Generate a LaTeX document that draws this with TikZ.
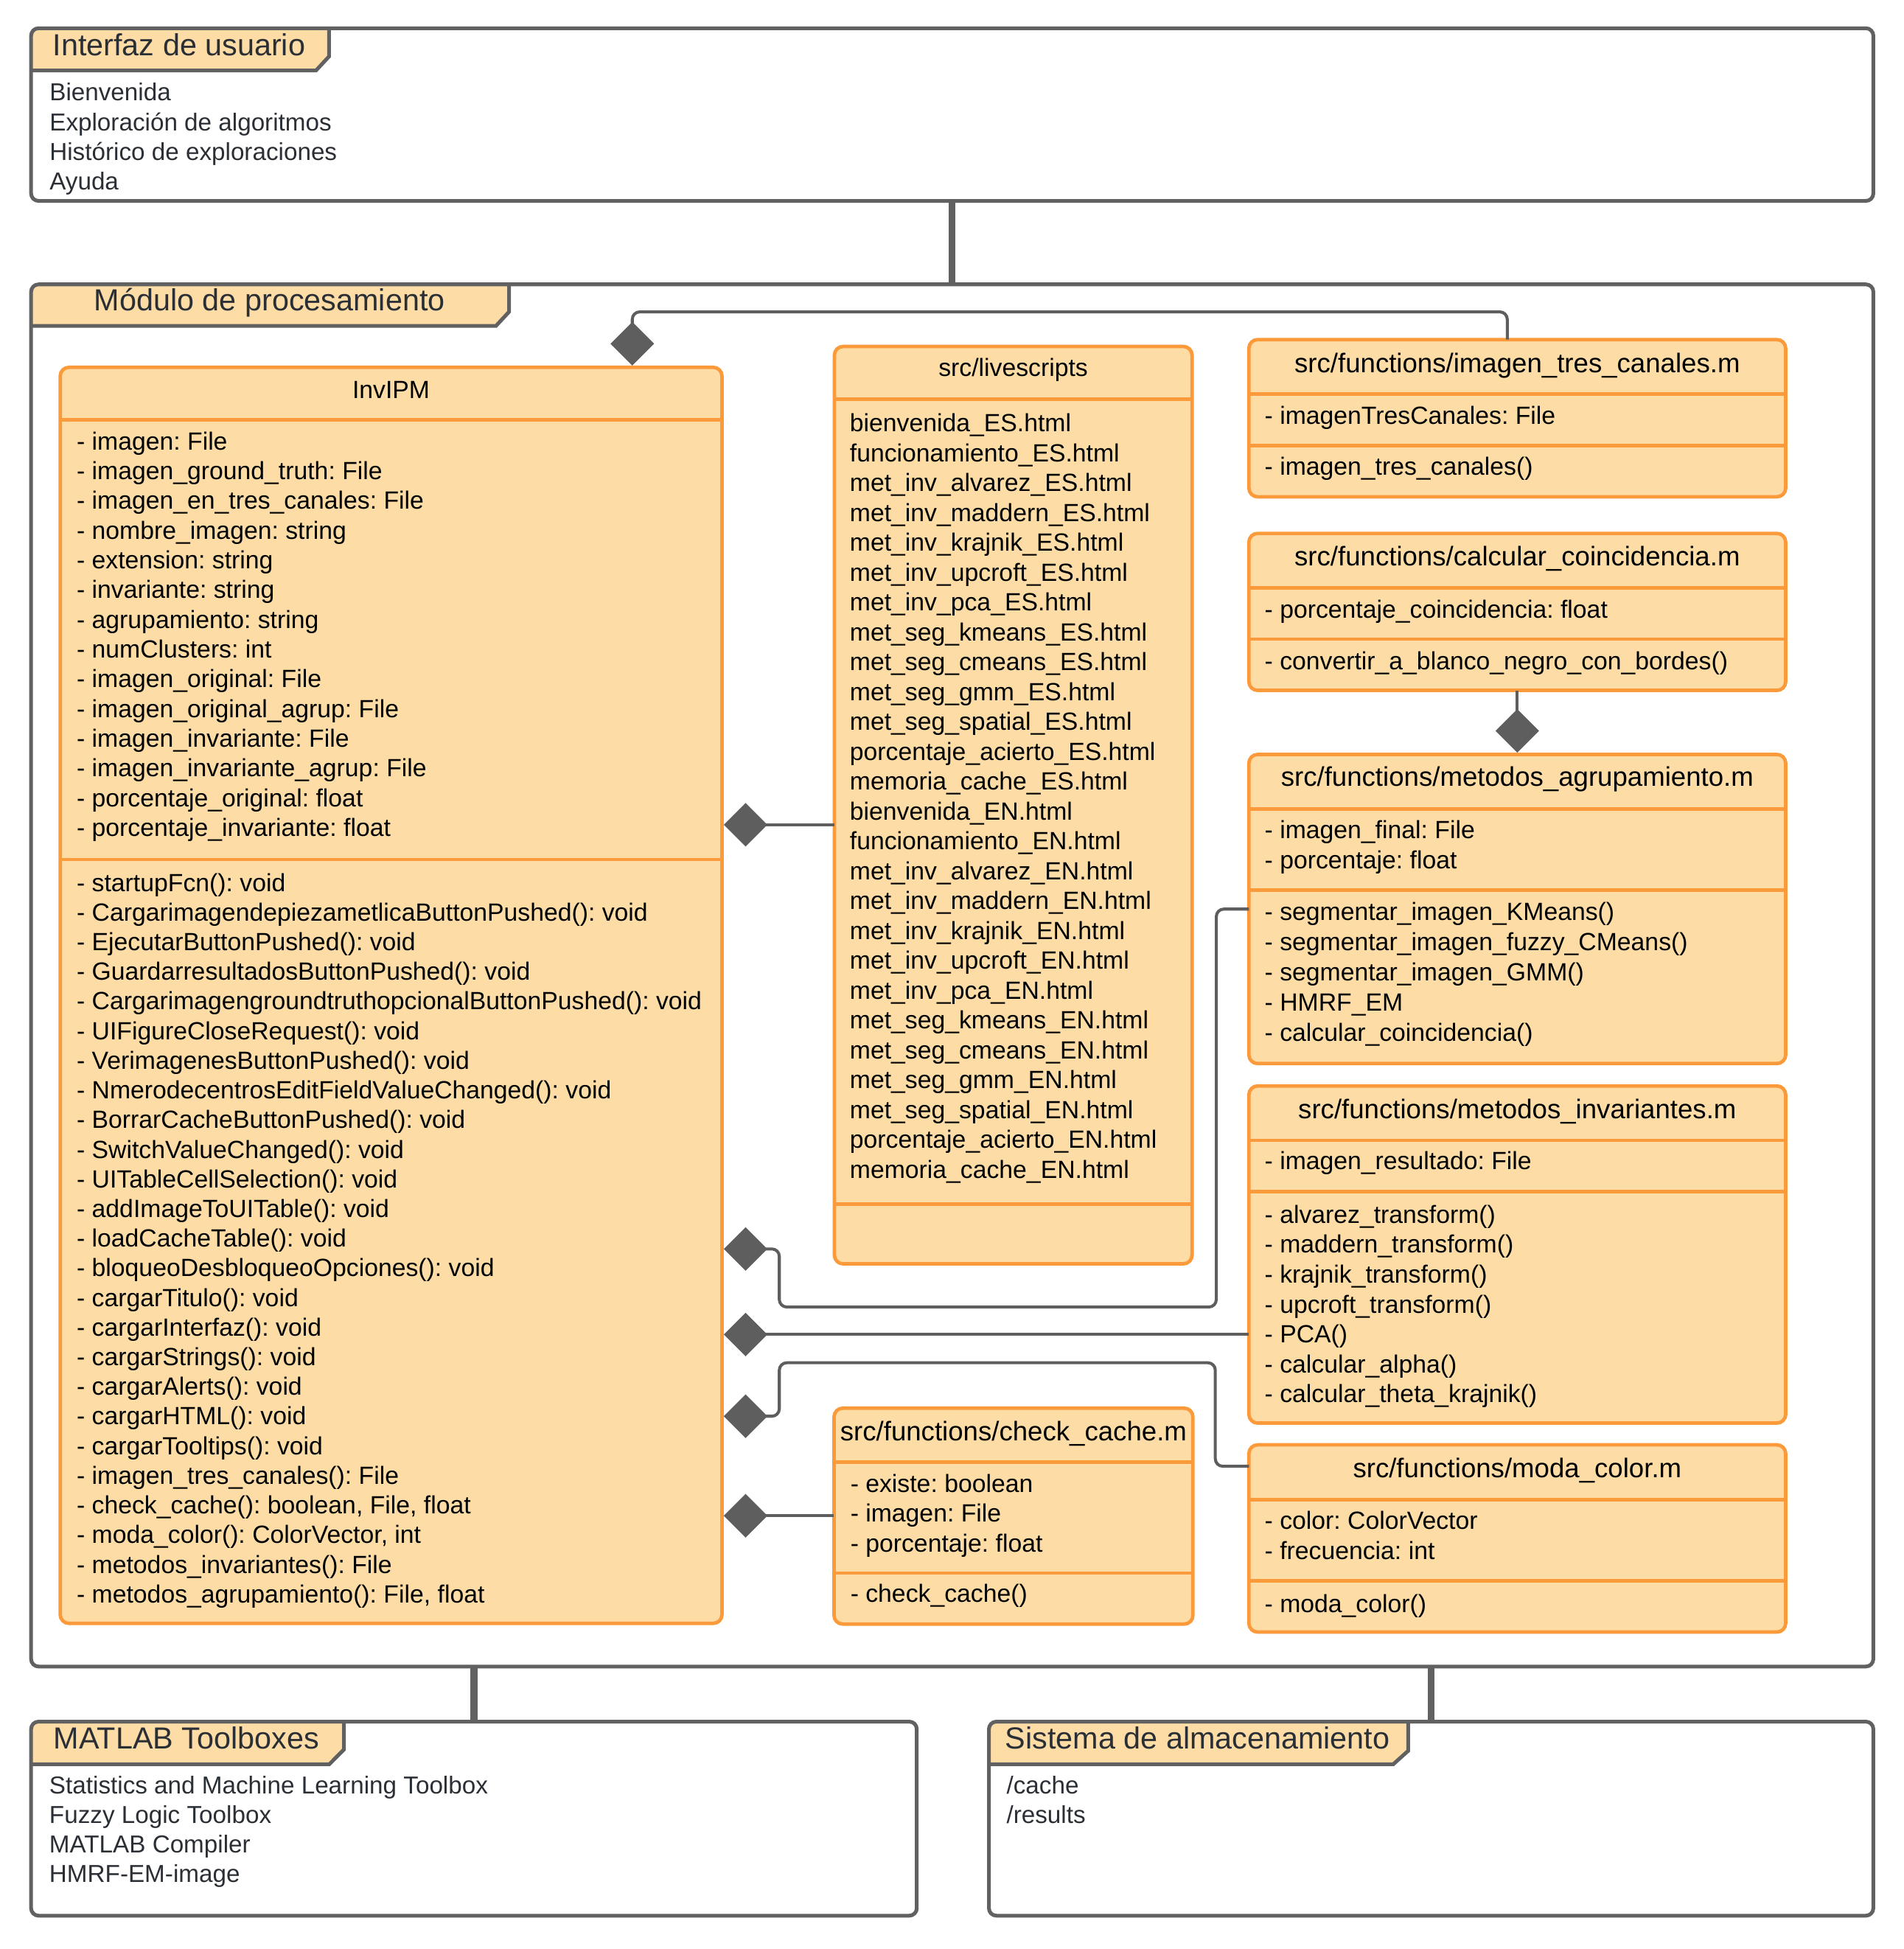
\documentclass[tikz,border=0pt]{standalone}
\usepackage{fontspec}
\setmainfont{Liberation Sans}
\frenchspacing
\usetikzlibrary{arrows.meta,calc}
\definecolor{boxfill}{HTML}{FDDCA6}
\definecolor{boxline}{HTML}{FA9A3B}
\definecolor{framegray}{HTML}{616161}
\definecolor{linkgray}{HTML}{5E5E5E}
\definecolor{frametext}{HTML}{2A2E35}
\tikzstyle{frame}=[draw=framegray, line width=3pt, rounded corners=6pt,
                   inner sep=0pt, outer sep=0pt, anchor=north west]
\tikzstyle{tab}=[fill=boxfill]
\tikzstyle{tabedge}=[draw=framegray, line width=3pt]
\tikzstyle{frametitle}=[anchor=base west, inner sep=0pt, text=frametext,
                        font=\fontsize{24.5}{29}\selectfont]
\tikzstyle{frameitem}=[anchor=base west, inner sep=0pt, text=frametext,
                       font=\fontsize{19.7}{24}\selectfont]
\tikzstyle{umlbox}=[draw=boxline, fill=boxfill, line width=2.8pt, rounded corners=7pt,
                    inner sep=0pt, outer sep=0pt, anchor=north west]
\tikzstyle{divider}=[draw=boxline, line width=2.8pt]
\tikzstyle{classname}=[anchor=base, inner sep=0pt, font=\fontsize{20}{24}\selectfont]
\tikzstyle{filename}=[anchor=base, inner sep=0pt, font=\fontsize{21.7}{26}\selectfont]
\tikzstyle{member}=[anchor=base west, inner sep=0pt, font=\fontsize{20}{24}\selectfont]
\tikzstyle{link}=[draw=framegray, line width=5.5pt]
\tikzset{comp/.style={draw=linkgray, line width=2.4pt, rounded corners=6pt,
                      -{Diamond[length=35pt,width=35pt]}, shorten >=1.5pt}}
% one node per line: prefix, style, x, first baseline, step, lines
\newcommand{\memberlist}[6]{%
  \foreach \txt [count=\k from 0] in {#6}
    \node[#2] (#1\k) at (#3,{#4+\k*#5}) {\txt};}

\begin{document}
\begin{tikzpicture}[x=1pt,y=-1pt]
\useasboundingbox (0,0) rectangle (1530.1,1566.8);

% Interfaz de usuario
\fill[tab] (25,28.7) -- (31,22.7) -- (264.5,22.7) -- (264.5,45.4) -- (254,56.7) -- (25,56.7) -- cycle;
\node[frame, minimum width=1481pt, minimum height=138.8pt] (ui) at (25,22.7) {};
\draw[tabedge] (264.5,22.7) -- (264.5,45.4) -- (254,56.7) -- (25,56.7);
\node[frametitle] (ui-title) at (42.3,44.7) {Interfaz de usuario};
\memberlist{ui-}{frameitem}{39.7}{81}{23.9}{Bienvenida, Exploración de algoritmos,
  Histórico de exploraciones, Ayuda}

% Modulo de procesamiento
\fill[tab] (25,234.6) -- (31,228.6) -- (409.3,228.6) -- (409.3,250.6) -- (398.7,262) -- (25,262) -- cycle;
\node[frame, minimum width=1481pt, minimum height=1111.1pt] (mod) at (25,228.6) {};
\draw[tabedge] (409.3,228.6) -- (409.3,250.6) -- (398.7,262) -- (25,262);
\node[frametitle] (mod-title) at (75.6,250) {Módulo de procesamiento};

% MATLAB Toolboxes
\fill[tab] (25,1390) -- (31,1384) -- (276.5,1384) -- (276.5,1406.4) -- (264.7,1418.3) -- (25,1418.3) -- cycle;
\node[frame, minimum width=712pt, minimum height=156pt] (mat) at (25,1384) {};
\draw[tabedge] (276.5,1384) -- (276.5,1406.4) -- (264.7,1418.3) -- (25,1418.3);
\node[frametitle] (mat-title) at (43,1406) {MATLAB Toolboxes};
\memberlist{mat-}{frameitem}{39.5}{1442}{23.8}{Statistics and Machine Learning Toolbox,
  Fuzzy Logic Toolbox, MATLAB Compiler, HMRF-EM-image}

% Sistema de almacenamiento
\fill[tab] (795,1390) -- (801,1384) -- (1132,1384) -- (1132,1407.5) -- (1120,1418.3) -- (795,1418.3) -- cycle;
\node[frame, minimum width=711pt, minimum height=156pt] (sis) at (795,1384) {};
\draw[tabedge] (1132,1384) -- (1132,1407.5) -- (1120,1418.3) -- (795,1418.3);
\node[frametitle] (sis-title) at (808,1406) {Sistema de almacenamiento};
\node[frameitem] (sis-0) at (809,1442) {/cache};
\node[frameitem] (sis-1) at (809,1465.8) {/results};

\draw[link] (ui.south) -- (mod.north);
\draw[link] (mat.north |- mod.south) -- (mat.north);
\draw[link] (sis.north |- mod.south) -- (sis.north);

% InvIPM
\node[umlbox, minimum width=532pt, minimum height=1009.7pt] (inv) at (48.4,295.3) {};
\draw[divider] (inv.west |- 0,337.3) -- (inv.east |- 0,337.3);
\draw[divider] (inv.west |- 0,691) -- (inv.east |- 0,691);
\node[classname] (inv-name) at (inv.north |- 0,320.5) {InvIPM};
\memberlist{inv-a}{member}{61.5}{361.5}{23.9}{- imagen: File, - imagen\_ground\_truth: File,
  - imagen\_en\_tres\_canales: File, - nombre\_imagen: string, - extension: string,
  - invariante: string, - agrupamiento: string, - numClusters: int,
  - imagen\_original: File, - imagen\_original\_agrup: File, - imagen\_invariante: File,
  - imagen\_invariante\_agrup: File, - porcentaje\_original: float,
  - porcentaje\_invariante: float}
\memberlist{inv-m}{member}{61.5}{716.5}{23.83}{- startupFcn(): void,
  - CargarimagendepiezametlicaButtonPushed(): void, - EjecutarButtonPushed(): void,
  - GuardarresultadosButtonPushed(): void,
  - CargarimagengroundtruthopcionalButtonPushed(): void,
  - UIFigureCloseRequest(): void, - VerimagenesButtonPushed(): void,
  - NmerodecentrosEditFieldValueChanged(): void, - BorrarCacheButtonPushed(): void,
  - SwitchValueChanged(): void, - UITableCellSelection(): void,
  - addImageToUITable(): void, - loadCacheTable(): void,
  - bloqueoDesbloqueoOpciones(): void, - cargarTitulo(): void, - cargarInterfaz(): void,
  - cargarStrings(): void, - cargarAlerts(): void, - cargarHTML(): void,
  - cargarTooltips(): void, - imagen\_tres\_canales(): File,
  {- check\_cache(): boolean, File, float}, {- moda\_color(): ColorVector, int},
  - metodos\_invariantes(): File, {- metodos\_agrupamiento(): File, float}}

% src/livescripts
\node[umlbox, minimum width=287.5pt, minimum height=737.5pt] (live) at (670.8,278.5) {};
\draw[divider] (live.west |- 0,320.8) -- (live.east |- 0,320.8);
\draw[divider] (live.west |- 0,968) -- (live.east |- 0,968);
\node[classname] (live-name) at (live.north |- 0,302.6) {src/livescripts};
\memberlist{live-}{member}{683}{347}{24}{bienvenida\_ES.html, funcionamiento\_ES.html,
  met\_inv\_alvarez\_ES.html, met\_inv\_maddern\_ES.html, met\_inv\_krajnik\_ES.html,
  met\_inv\_upcroft\_ES.html, met\_inv\_pca\_ES.html, met\_seg\_kmeans\_ES.html,
  met\_seg\_cmeans\_ES.html, met\_seg\_gmm\_ES.html, met\_seg\_spatial\_ES.html,
  porcentaje\_acierto\_ES.html, memoria\_cache\_ES.html,
  bienvenida\_EN.html, funcionamiento\_EN.html,
  met\_inv\_alvarez\_EN.html, met\_inv\_maddern\_EN.html, met\_inv\_krajnik\_EN.html,
  met\_inv\_upcroft\_EN.html, met\_inv\_pca\_EN.html, met\_seg\_kmeans\_EN.html,
  met\_seg\_cmeans\_EN.html, met\_seg\_gmm\_EN.html, met\_seg\_spatial\_EN.html,
  porcentaje\_acierto\_EN.html, memoria\_cache\_EN.html}

% src/functions/imagen_tres_canales.m
\node[umlbox, minimum width=431.5pt, minimum height=126.4pt] (itc) at (1004,273) {};
\draw[divider] (itc.west |- 0,316.9) -- (itc.east |- 0,316.9);
\draw[divider] (itc.west |- 0,358) -- (itc.east |- 0,358);
\node[filename] (itc-name) at (itc.north |- 0,299.6) {src/functions/imagen\_tres\_canales.m};
\node[member] (itc-a) at (1016.5,341) {- imagenTresCanales: File};
\node[member] (itc-m) at (1016.5,382) {- imagen\_tres\_canales()};

% src/functions/calcular_coincidencia.m
\node[umlbox, minimum width=431.5pt, minimum height=126.2pt] (cc) at (1004,428.8) {};
\draw[divider] (cc.west |- 0,472.6) -- (cc.east |- 0,472.6);
\draw[divider] (cc.west |- 0,513.7) -- (cc.east |- 0,513.7);
\node[filename] (cc-name) at (cc.north |- 0,454.6) {src/functions/calcular\_coincidencia.m};
\node[member] (cc-a) at (1016.5,497) {- porcentaje\_coincidencia: float};
\node[member] (cc-m) at (1016.5,538.5) {- convertir\_a\_blanco\_negro\_con\_bordes()};

% src/functions/metodos_agrupamiento.m
\node[umlbox, minimum width=431.5pt, minimum height=248.5pt] (ma) at (1004,606.5) {};
\draw[divider] (ma.west |- 0,650.4) -- (ma.east |- 0,650.4);
\draw[divider] (ma.west |- 0,715.5) -- (ma.east |- 0,715.5);
\node[filename] (ma-name) at (ma.north |- 0,632.2) {src/functions/metodos\_agrupamiento.m};
\memberlist{ma-a}{member}{1016.5}{674.3}{23.9}{- imagen\_final: File, - porcentaje: float}
\memberlist{ma-m}{member}{1016.5}{740}{24.3}{- segmentar\_imagen\_KMeans(),
  - segmentar\_imagen\_fuzzy\_CMeans(), - segmentar\_imagen\_GMM(), - HMRF\_EM,
  - calcular\_coincidencia()}

% src/functions/metodos_invariantes.m
\node[umlbox, minimum width=431.5pt, minimum height=271pt] (mi) at (1004,873) {};
\draw[divider] (mi.west |- 0,916.7) -- (mi.east |- 0,916.7);
\draw[divider] (mi.west |- 0,958) -- (mi.east |- 0,958);
\node[filename] (mi-name) at (mi.north |- 0,899) {src/functions/metodos\_invariantes.m};
\node[member] (mi-a) at (1016.5,940) {- imagen\_resultado: File};
\memberlist{mi-m}{member}{1016.5}{983.3}{24.05}{- alvarez\_transform(),
  - maddern\_transform(), - krajnik\_transform(), - upcroft\_transform(), - PCA(),
  - calcular\_alpha(), - calcular\_theta\_krajnik()}

% src/functions/moda_color.m
\node[umlbox, minimum width=431.5pt, minimum height=150.5pt] (mc) at (1004,1161.5) {};
\draw[divider] (mc.west |- 0,1205.5) -- (mc.east |- 0,1205.5);
\draw[divider] (mc.west |- 0,1271) -- (mc.east |- 0,1271);
\node[filename] (mc-name) at (mc.north |- 0,1188) {src/functions/moda\_color.m};
\memberlist{mc-a}{member}{1016.5}{1229.6}{24.2}{- color: ColorVector, - frecuencia: int}
\node[member] (mc-m) at (1016.5,1296) {- moda\_color()};

% src/functions/check_cache.m
\node[umlbox, minimum width=288.5pt, minimum height=173.6pt] (ck) at (670.5,1132) {};
\draw[divider] (ck.west |- 0,1175.5) -- (ck.east |- 0,1175.5);
\draw[divider] (ck.west |- 0,1264.5) -- (ck.east |- 0,1264.5);
\node[filename] (ck-name) at (ck.north |- 0,1158.3) {src/functions/check\_cache.m};
\memberlist{ck-a}{member}{683.5}{1199.8}{23.85}{- existe: boolean, - imagen: File,
  - porcentaje: float}
\node[member] (ck-m) at (683.5,1288) {- check\_cache()};

% composition links
\draw[comp] (itc.north -| 1211.7,0) -- ++(0,-22.3) -| (inv.north -| 508.3,0);
\draw[comp] (live.west |- 0,663) -- (inv.east |- 0,663);
\draw[comp] (cc.south) -- (ma.north);
\draw[comp] (ma.west |- 0,730.8) -| (977.8,1050.7) -| (626.5,1004) -- (inv.east |- 0,1004);
\draw[comp] (mi.west |- 0,1072.8) -- (inv.east |- 0,1072.8);
\draw[comp] (mc.west |- 0,1178.7) -| (977,1095.5) -| (626.5,1138.5) -- (inv.east |- 0,1138.5);
\draw[comp] (ck.west |- 0,1218.5) -- (inv.east |- 0,1218.5);
\end{tikzpicture}
\end{document}
